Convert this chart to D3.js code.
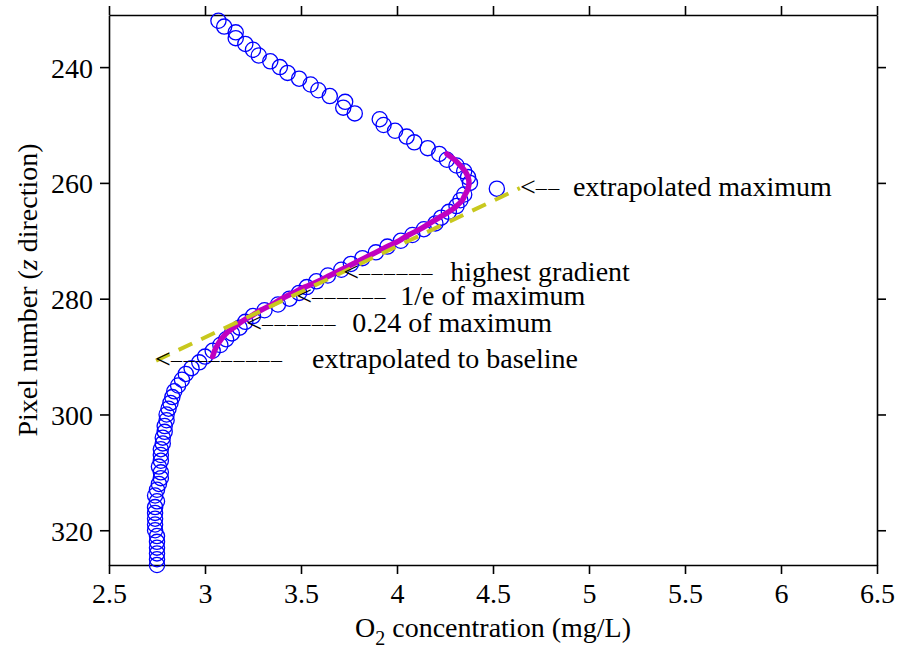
<!DOCTYPE html>
<html>
<head>
<meta charset="utf-8">
<script src="https://cdn.jsdelivr.net/npm/d3@7"></script>
<style>
  body { margin: 0; background: #fff; }
  text { font-family: "Liberation Serif", "Times New Roman", serif; fill: #000; }
</style>
</head>
<body>
<svg id="chart" width="900" height="652"></svg>
<script>
// measured profile: pixel row (z) and O2 concentration
const pixelRows = [
  232, 233, 234, 235, 236, 237, 238, 239, 240, 241, 242, 243, 244, 245, 246, 247, 248, 249, 250, 251,
  252, 253, 254, 255, 256, 257, 258, 259, 260, 261, 262, 263, 264, 265, 266, 267, 268, 269, 270, 271,
  272, 273, 274, 275, 276, 277, 278, 279, 280, 281, 282, 283, 284, 285, 286, 287, 288, 289, 290, 291,
  292, 293, 294, 295, 296, 297, 298, 299, 300, 301, 302, 303, 304, 305, 306, 307, 308, 309, 310, 311,
  312, 313, 314, 315, 316, 317, 318, 319, 320, 321, 322, 323, 324, 325, 326
];
const o2Values = [
  3.07, 3.10, 3.16, 3.16, 3.21, 3.25, 3.28, 3.34, 3.39, 3.43, 3.49, 3.55, 3.59, 3.65, 3.73, 3.72, 3.78, 3.91, 3.93, 3.99,
  4.05, 4.09, 4.16, 4.22, 4.26, 4.31, 4.35, 4.37, 4.38, 4.52, 4.35, 4.33, 4.31, 4.27, 4.23, 4.20, 4.14, 4.08, 4.02, 3.95,
  3.89, 3.82, 3.76, 3.71, 3.64, 3.58, 3.53, 3.49, 3.44, 3.38, 3.31, 3.25, 3.21, 3.18, 3.14, 3.11, 3.08, 3.04, 3.00, 2.97,
  2.93, 2.90, 2.88, 2.86, 2.84, 2.83, 2.82, 2.81, 2.80, 2.80, 2.79, 2.79, 2.78, 2.78, 2.77, 2.77, 2.77, 2.76, 2.77, 2.77,
  2.76, 2.75, 2.74, 2.75, 2.74, 2.74, 2.74, 2.74, 2.74, 2.75, 2.75, 2.75, 2.75, 2.75, 2.75
];

// fitted curve (magenta)
const fitRows = [255, 256, 257, 258, 259, 260, 261, 262, 263, 264, 265, 266, 267, 268, 269, 270, 271, 272,
  273, 274, 275, 276, 277, 278, 279, 280, 281, 282, 283, 284, 285, 286, 287, 288, 289, 290];
const fitValues = [4.26, 4.30, 4.33, 4.355, 4.37, 4.375, 4.37, 4.355, 4.34, 4.31, 4.27, 4.22, 4.17, 4.12, 4.06, 4.01, 3.95, 3.89,
  3.83, 3.77, 3.71, 3.65, 3.59, 3.52, 3.46, 3.40, 3.35, 3.29, 3.24, 3.19, 3.15, 3.11, 3.085, 3.065, 3.05, 3.04];

// gradient line extrapolated from baseline to maximum
const gradRows = [290.7, 260.9];
const gradValues = [2.745, 4.64];

// annotation targets
const noteLabels = ["extrapolated maximum", "highest gradient", "1/e of maximum", "0.24 of maximum", "extrapolated to baseline"];
const noteX = [4.64, 3.72, 3.475, 3.215, 2.74];
const noteY = [261, 275.8, 279.9, 284.5, 290.8];
const noteDashes = [2, 6, 6, 6, 9];
const noteOffsets = [53, 107, 104, 106, 157];

const xTicks = [2.5, 3, 3.5, 4, 4.5, 5, 5.5, 6, 6.5];
const yTicks = [240, 260, 280, 300, 320];

const svg = d3.select("#chart"),
    margin = { top: 15, right: 23, bottom: 87, left: 109 },
    width = +svg.attr("width") - margin.left - margin.right,
    height = +svg.attr("height") - margin.top - margin.bottom,
    chart = svg.append("g").attr("transform", `translate(${margin.left},${margin.top})`);

const x = d3.scaleLinear().domain([2.5, 6.5]).range([0, width]);
const y = d3.scaleLinear().domain([231, 326]).range([0, height]);

const fs = 28;

// axes on all four sides, ticks pointing outwards
function styleAxis(g) {
    g.selectAll(".domain").attr("stroke", "#000").attr("stroke-width", 1.6);
    g.selectAll(".tick line").attr("stroke", "#000").attr("stroke-width", 1.6);
    g.selectAll("text").attr("font-size", fs).attr("font-family", "Liberation Serif");
}

chart.append("g")
    .attr("transform", `translate(0,${height})`)
    .call(d3.axisBottom(x).tickValues(xTicks).tickFormat(d3.format("~g")).tickSize(9).tickSizeOuter(0).tickPadding(9))
    .call(styleAxis)
    .call(g => g.selectAll("text").attr("dy", "0.72em"));

chart.append("g")
    .call(d3.axisTop(x).tickValues(xTicks).tickFormat("").tickSize(9).tickSizeOuter(0))
    .call(styleAxis);

chart.append("g")
    .call(d3.axisLeft(y).tickValues(yTicks).tickSize(9).tickSizeOuter(0).tickPadding(7))
    .call(styleAxis)
    .call(g => g.selectAll("text").attr("dy", "0.36em"));

chart.append("g")
    .attr("transform", `translate(${width},0)`)
    .call(d3.axisRight(y).tickValues(yTicks).tickFormat("").tickSize(9).tickSizeOuter(0))
    .call(styleAxis);

// axis titles
const xt = svg.append("text")
    .attr("x", margin.left + width / 2)
    .attr("y", 637)
    .attr("text-anchor", "middle")
    .attr("font-size", fs);
xt.append("tspan").text("O");
xt.append("tspan").attr("font-size", 20).attr("dy", 8).text("2");
xt.append("tspan").attr("dy", -8).text(" concentration (mg/L)");

const yt = svg.append("text")
    .attr("transform", `translate(37,${margin.top + height / 2}) rotate(-90)`)
    .attr("text-anchor", "middle")
    .attr("font-size", fs);
yt.append("tspan").text("Pixel number (");
yt.append("tspan").attr("font-style", "italic").text("z");
yt.append("tspan").text(" direction)");

// data points
chart.append("g")
    .selectAll("circle")
    .data(pixelRows.map((r, i) => ({ row: r, o2: o2Values[i] })))
    .join("circle")
    .attr("cx", d => x(d.o2))
    .attr("cy", d => y(d.row))
    .attr("r", 7.6)
    .attr("fill", "none")
    .attr("stroke", "#0000ff")
    .attr("stroke-width", 1.3);

// fit
const line = d3.line().x(d => x(d[1])).y(d => y(d[0])).curve(d3.curveCatmullRom);

chart.append("path")
    .datum(fitRows.map((r, i) => [r, fitValues[i]]))
    .attr("d", line)
    .attr("fill", "none")
    .attr("stroke", "#c000c0")
    .attr("stroke-width", 5.5)
    .attr("stroke-linecap", "round");

chart.append("path")
    .datum(gradRows.map((r, i) => [r, gradValues[i]]))
    .attr("d", d3.line().x(d => x(d[1])).y(d => y(d[0])))
    .attr("fill", "none")
    .attr("stroke", "#c8c81e")
    .attr("stroke-width", 4)
    .attr("stroke-dasharray", "15,10");

// annotations  "<----  label"
noteLabels.forEach((label, i) => {
    const px = x(noteX[i]), py = y(noteY[i]);
    const t = chart.append("text")
        .attr("x", px)
        .attr("y", py + 7)
        .attr("font-size", fs);
    t.append("tspan").text("<");
    t.append("tspan")
        .attr("font-size", 22)
        .attr("letter-spacing", "1.5px")
        .attr("dy", -1)
        .text("\u2013".repeat(noteDashes[i]));
    t.append("tspan")
        .attr("x", px + noteOffsets[i])
        .attr("dy", 1)
        .text(label);
});
</script>
</body>
</html>
